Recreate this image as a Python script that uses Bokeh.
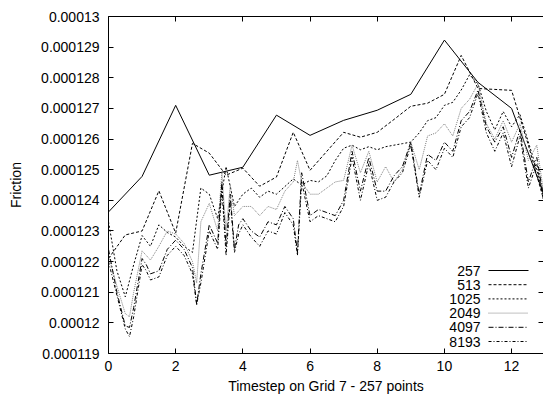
from bokeh.plotting import figure
from bokeh.models import (Range1d, FixedTicker, CustomJSTickFormatter, LinearAxis,
                          CustomLabelingPolicy)
from bokeh.core.properties import value
from bokeh.embed import file_html
from bokeh.resources import INLINE

FONT = "Liberation Sans"

# Friction history on grid 7, one series per number of points
x_257 = [0, 1, 2, 3, 4, 5, 6, 7, 8, 9, 10, 11, 12, 13]
f_257 = [123.62e-6, 124.78e-6, 127.10e-6, 124.82e-6, 125.08e-6, 126.78e-6, 126.12e-6,
         126.61e-6, 126.94e-6, 127.46e-6, 129.23e-6, 127.85e-6, 127.00e-6, 124.07e-6]

x_513 = [0, 0.5, 1, 1.5, 2, 2.5, 3, 3.5, 4, 4.5, 5, 5.5, 6, 6.5, 7, 7.5, 8, 8.5, 9,
         9.5, 10, 10.5, 11, 11.5, 12, 12.5, 13]
f_513 = [122.10e-6, 122.87e-6, 123.00e-6, 124.31e-6, 122.93e-6, 125.86e-6, 125.54e-6,
         124.82e-6, 125.05e-6, 124.46e-6, 124.76e-6, 126.22e-6, 124.98e-6, 125.60e-6,
         126.22e-6, 126.06e-6, 126.22e-6, 126.64e-6, 127.07e-6, 127.17e-6, 127.46e-6,
         128.73e-6, 127.65e-6, 127.62e-6, 127.59e-6, 125.80e-6, 123.84e-6]

x_1025 = [0, 0.25, 0.5, 0.75, 1, 1.25, 1.5, 1.75, 2, 2.25, 2.5, 2.75, 3, 3.25, 3.5, 3.75,
          4, 4.25, 4.5, 4.75, 5, 5.25, 5.5, 5.75, 6, 6.25, 6.5, 6.75, 7, 7.25, 7.5, 7.75,
          8, 8.25, 8.5, 8.75, 9, 9.25, 9.5, 9.75, 10, 10.25, 10.5, 10.75, 11, 11.25, 11.5,
          11.75, 12, 12.25, 12.5, 12.75, 13]
f_1025 = [123.3e-6, 121.7e-6, 120.85e-6, 121.9e-6, 122.85e-6, 122.5e-6, 123.2e-6, 122.95e-6,
          122.8e-6, 122.5e-6, 122.3e-6, 124.4e-6, 124.2e-6, 123.4e-6, 125.1e-6, 123.8e-6,
          124.2e-6, 124.4e-6, 124.1e-6, 124.3e-6, 124.2e-6, 124.45e-6, 124.7e-6, 124.5e-6,
          124.65e-6, 124.6e-6, 124.8e-6, 125.3e-6, 125.7e-6, 125.8e-6, 125.65e-6, 125.75e-6,
          125.65e-6, 125.75e-6, 125.8e-6, 125.85e-6, 125.9e-6, 126.2e-6, 126.6e-6, 126.7e-6,
          127.1e-6, 127.2e-6, 127.6e-6, 128.1e-6, 127.8e-6, 126.9e-6, 126.3e-6, 126.9e-6,
          126.4e-6, 126.8e-6, 125.9e-6, 125.0e-6, 124.0e-6]

x_2049 = [0, 0.25, 0.5, 0.625, 0.75, 1, 1.25, 1.5, 1.75, 2, 2.25, 2.5, 2.625, 2.75, 3,
          3.25, 3.375, 3.5, 3.625, 3.75, 4, 4.25, 4.5, 4.75, 5, 5.25, 5.5, 5.625, 5.75, 6,
          6.25, 6.5, 6.75, 7, 7.25, 7.5, 7.75, 8, 8.25, 8.5, 8.75, 9, 9.25, 9.5, 9.75, 10,
          10.25, 10.5, 10.75, 11, 11.25, 11.5, 11.75, 12, 12.25, 12.5, 12.75, 13]
f_2049 = [122.2e-6, 121.2e-6, 120.3e-6, 120.2e-6, 121.0e-6, 122.35e-6, 122.05e-6, 122.5e-6,
          123.0e-6, 122.9e-6, 122.6e-6, 122.0e-6, 121.3e-6, 123.3e-6, 123.9e-6, 123.0e-6,
          124.9e-6, 123.0e-6, 124.5e-6, 123.5e-6, 123.8e-6, 123.8e-6, 123.5e-6, 123.8e-6,
          123.7e-6, 124.3e-6, 124.6e-6, 125.3e-6, 124.6e-6, 124.2e-6, 124.2e-6, 124.4e-6,
          124.6e-6, 124.65e-6, 125.8e-6, 124.9e-6, 125.6e-6, 124.6e-6, 125.1e-6, 124.6e-6,
          125.0e-6, 125.9e-6, 125.0e-6, 126.1e-6, 126.2e-6, 126.5e-6, 126.1e-6, 127.0e-6,
          127.3e-6, 127.8e-6, 126.5e-6, 126.0e-6, 126.6e-6, 125.9e-6, 126.5e-6, 125.3e-6,
          125.8e-6, 123.9e-6]

x_4097 = [0, 0.25, 0.5, 0.625, 0.75, 1, 1.125, 1.25, 1.5, 1.75, 2, 2.25, 2.5, 2.625, 2.75,
          3, 3.25, 3.375, 3.5, 3.625, 3.75, 3.875, 4, 4.25, 4.5, 4.75, 5, 5.25, 5.5, 5.625,
          5.75, 6, 6.25, 6.5, 6.75, 7, 7.25, 7.5, 7.75, 8, 8.25, 8.5, 8.75, 9, 9.25, 9.5,
          9.75, 10, 10.25, 10.5, 10.75, 11, 11.25, 11.5, 11.75, 12, 12.25, 12.5, 12.75, 13]
f_4097 = [122.4e-6, 121.0e-6, 119.9e-6, 119.85e-6, 120.5e-6, 122.1e-6, 121.9e-6, 121.6e-6,
          121.7e-6, 122.4e-6, 122.7e-6, 122.4e-6, 121.8e-6, 120.6e-6, 121.6e-6, 123.2e-6,
          122.6e-6, 124.6e-6, 122.5e-6, 124.2e-6, 122.4e-6, 123.2e-6, 123.4e-6, 123.0e-6,
          122.8e-6, 123.3e-6, 123.2e-6, 123.8e-6, 123.4e-6, 122.3e-6, 124.9e-6, 123.5e-6,
          123.7e-6, 123.6e-6, 123.5e-6, 124.0e-6, 125.6e-6, 124.3e-6, 125.4e-6, 124.3e-6,
          124.3e-6, 124.8e-6, 125.1e-6, 125.9e-6, 124.2e-6, 125.5e-6, 125.3e-6, 125.9e-6,
          125.6e-6, 126.6e-6, 126.9e-6, 127.6e-6, 126.4e-6, 125.9e-6, 126.4e-6, 125.4e-6,
          126.3e-6, 124.6e-6, 125.4e-6, 123.8e-6]

x_8193 = x_4097
f_8193 = [122.0e-6, 120.9e-6, 119.8e-6, 119.55e-6, 120.2e-6, 121.9e-6, 121.7e-6, 121.4e-6,
          121.5e-6, 122.2e-6, 122.5e-6, 122.2e-6, 121.6e-6, 120.6e-6, 121.3e-6, 123.0e-6,
          122.4e-6, 124.4e-6, 122.2e-6, 124.0e-6, 122.3e-6, 122.9e-6, 123.2e-6, 122.8e-6,
          122.5e-6, 123.0e-6, 122.9e-6, 123.6e-6, 123.2e-6, 122.2e-6, 124.6e-6, 123.3e-6,
          123.5e-6, 123.4e-6, 123.3e-6, 123.8e-6, 125.4e-6, 124.0e-6, 125.2e-6, 124.0e-6,
          124.1e-6, 124.6e-6, 124.9e-6, 125.8e-6, 124.1e-6, 125.3e-6, 125.0e-6, 125.7e-6,
          125.4e-6, 126.4e-6, 126.7e-6, 127.5e-6, 126.2e-6, 125.6e-6, 126.2e-6, 125.1e-6,
          126.1e-6, 124.4e-6, 125.2e-6, 123.7e-6]

x_ticks = [0, 2, 4, 6, 8, 10, 12]
y_ticks = [119e-6, 120e-6, 121e-6, 122e-6, 123e-6, 124e-6, 125e-6,
           126e-6, 127e-6, 128e-6, 129e-6, 130e-6]

series = [
    ("257", x_257, f_257, "#000000", "solid"),
    ("513", x_513, f_513, "#000000", "3 2"),
    ("1025", x_1025, f_1025, "#000000", "2 2"),
    ("2049", x_2049, f_2049, "#808080", "1 1"),
    ("4097", x_4097, f_4097, "#000000", "5 2 1 2"),
    ("8193", x_8193, f_8193, "#000000", "3 2 1 2"),
]

FRAME_W, FRAME_H = 435, 337

p = figure(width=543, height=399, output_backend="svg", toolbar_location=None,
           x_range=Range1d(0, 12.95), y_range=Range1d(119e-6, 130e-6),
           min_border_left=108, min_border_right=0, min_border_top=16,
           min_border_bottom=46)
p.background_fill_color = "white"
p.border_fill_color = "white"
p.outline_line_color = None
p.grid.visible = False

def style_axis(ax):
    ax.axis_line_color = "black"
    ax.major_tick_line_color = "black"
    ax.major_tick_in = 5
    ax.major_tick_out = 0
    ax.minor_tick_line_color = None
    ax.major_label_text_font = FONT
    ax.major_label_text_font_size = "14px"
    ax.major_label_text_color = "black"
    ax.axis_label_text_font = FONT
    ax.axis_label_text_font_size = "14px"
    ax.axis_label_text_font_style = "normal"
    ax.axis_label_text_color = "black"

xa = p.xaxis[0]
style_axis(xa)
xa.ticker = FixedTicker(ticks=x_ticks)
xa.major_label_standoff = 7
xa.axis_label = "Timestep on Grid 7 - 257 points"
xa.axis_label_standoff = 4

ya = p.yaxis[0]
style_axis(ya)
ya.ticker = FixedTicker(ticks=y_ticks)
ya.formatter = CustomJSTickFormatter(code="return String(parseFloat(tick.toPrecision(6)));")
ya.major_label_standoff = 9
ya.axis_label = "Friction"
ya.axis_label_standoff = 14

# mirrored ticks on the top and right borders, without labels and without label room
hide_labels = CustomLabelingPolicy(
    code="for (let i = 0; i < indices.size; i++) { indices.unset(i) } return indices")

def mirror_axis(ticks):
    ax = LinearAxis(ticker=FixedTicker(ticks=ticks))
    style_axis(ax)
    ax.major_label_policy = hide_labels
    ax.major_label_text_font_size = "0px"
    ax.major_label_standoff = 0
    return ax

top = mirror_axis(x_ticks)
p.add_layout(top, "above")

right = mirror_axis(y_ticks)
right.axis_line_color = None
p.add_layout(right, "right")

for name, xs, fs, color, dash in series:
    p.line(xs, fs, line_color=color, line_width=1, line_dash=dash)

# key in the lower right corner, laid out in frame pixels
p.extra_x_ranges = {"key_x": Range1d(0, FRAME_W)}
p.extra_y_ranges = {"key_y": Range1d(0, FRAME_H)}
row0, row_step = 83, 14.2
label_right, sample_left, sample_right = 372, 380, 420
for i, (name, xs, fs, color, dash) in enumerate(series):
    yy = row0 - i * row_step
    p.line([sample_left, sample_right], [yy, yy], line_color=color, line_width=1,
           line_dash=dash, x_range_name="key_x", y_range_name="key_y")
    p.text(x=[label_right], y=[yy], text=[name], text_align="right",
           text_baseline="middle", text_font=value(FONT), text_font_size="14px",
           text_color="black", x_range_name="key_x", y_range_name="key_y")

open("out.html", "w").write(file_html(p, INLINE))
